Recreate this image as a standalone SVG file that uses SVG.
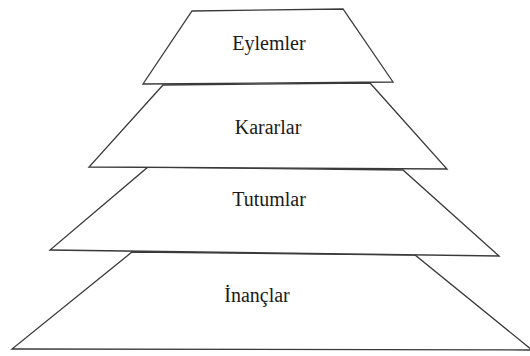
<svg xmlns="http://www.w3.org/2000/svg" width="530" height="356" viewBox="0 0 530 356">
<style>
.tz{fill:#fff;stroke:#3a3a3a;stroke-width:1.3;stroke-linejoin:miter}
.lb{font-size:20px;fill:#1a1a1a;text-anchor:middle}
</style>
<rect width="530" height="356" fill="#fff"/>
<g id="inanclar">
<polygon class="tz" points="132,252 415,255 532,350 12,349"/>
<text class="lb" font-family="Liberation Serif, serif" x="257" y="302">İnançlar</text>
</g>
<g id="tutumlar">
<polygon class="tz" points="148,167 403,170 499,256 50,250"/>
<text class="lb" font-family="Liberation Serif, serif" x="269" y="206">Tutumlar</text>
</g>
<g id="kararlar">
<polygon class="tz" points="163,85 370,83 447,169 89,167"/>
<text class="lb" font-family="Liberation Serif, serif" x="268" y="134">Kararlar</text>
</g>
<g id="eylemler">
<polygon class="tz" points="192,11 343,9 393,82 143,84"/>
<text class="lb" font-family="Liberation Serif, serif" x="269" y="50">Eylemler</text>
</g>
<g id="connectors"></g>
</svg>
